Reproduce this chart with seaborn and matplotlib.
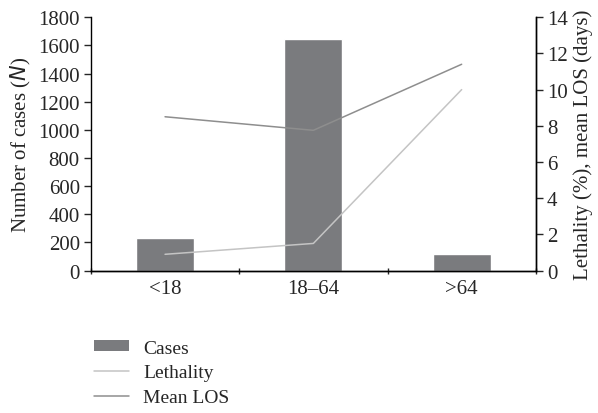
import numpy as np
import pandas as pd
import matplotlib
matplotlib.use("Agg")
import matplotlib.pyplot as plt
from matplotlib.patches import Patch
from matplotlib.lines import Line2D
import seaborn as sns

age_groups = ["<18", "18\u201364", ">64"]
cases = [230, 1645, 115]
lethality = [0.9, 1.5, 10.0]
mean_los = [8.5, 7.75, 11.4]

bar_color = "#7a7b7e"
leth_color = "#c4c4c4"
los_color = "#8e8e8e"

sns.set_style("white")
plt.rcParams["font.family"] = ["Liberation Serif", "DejaVu Serif"]
plt.rcParams["font.size"] = 15

df = pd.DataFrame({"Age": age_groups, "Cases": cases,
                   "Lethality": lethality, "LOS": mean_los})

fig = plt.figure(figsize=(5.98, 4.14), dpi=100)
ax = fig.add_axes([0.152, 0.344, 0.744, 0.612])

sns.barplot(data=df, x="Age", y="Cases", color=bar_color, width=0.39,
            saturation=1, ax=ax)
ax.set_ylim(0, 1800)
ax.set_yticks(np.arange(0, 1801, 200))
ax.set_xlim(-0.5, 2.5)
ax.set_xlabel("")
ax.set_ylabel("Number of cases ($\\mathit{N}$)", fontsize=15, labelpad=4)

ax2 = ax.twinx()
sns.lineplot(x=[0, 1, 2], y=df["Lethality"], color=leth_color, lw=1.1, ax=ax2)
sns.lineplot(x=[0, 1, 2], y=df["LOS"], color=los_color, lw=1.1, ax=ax2)
ax2.set_ylim(0, 14)
ax2.set_yticks(np.arange(0, 15, 2))
ax2.set_ylabel("Lethality (%), mean LOS (days)", fontsize=15, labelpad=4)

for a in (ax, ax2):
    a.spines["top"].set_visible(False)
    for s in ("left", "right", "bottom"):
        a.spines[s].set_color("black")
        a.spines[s].set_linewidth(1.0)
    a.tick_params(axis="y", direction="out", length=5, width=1,
                  labelsize=15, pad=3)
ax.tick_params(axis="y", left=True, right=False)
ax2.tick_params(axis="y", left=False, right=True)
ax2.spines["left"].set_visible(False)

ax.set_xticks([0, 1, 2])
ax.set_xticklabels(age_groups)
ax.set_xticks([-0.5, 0.5, 1.5, 2.5], minor=True)
ax.tick_params(axis="x", which="major", length=0, labelsize=15, pad=6)
ax.tick_params(axis="x", which="minor", length=5, width=1, direction="inout",
               bottom=True)

handles = [Patch(facecolor=bar_color, edgecolor="none"),
           Line2D([], [], color=leth_color, lw=1.1),
           Line2D([], [], color=los_color, lw=1.1)]
fig.legend(handles, ["Cases", "Lethality", "Mean LOS"],
           loc="upper left", bbox_to_anchor=(0.145, 0.196),
           frameon=False, fontsize=14, handlelength=1.8, handleheight=0.5,
           handletextpad=0.7, labelspacing=0.4, borderaxespad=0)

fig.savefig("out.png", dpi=100)
